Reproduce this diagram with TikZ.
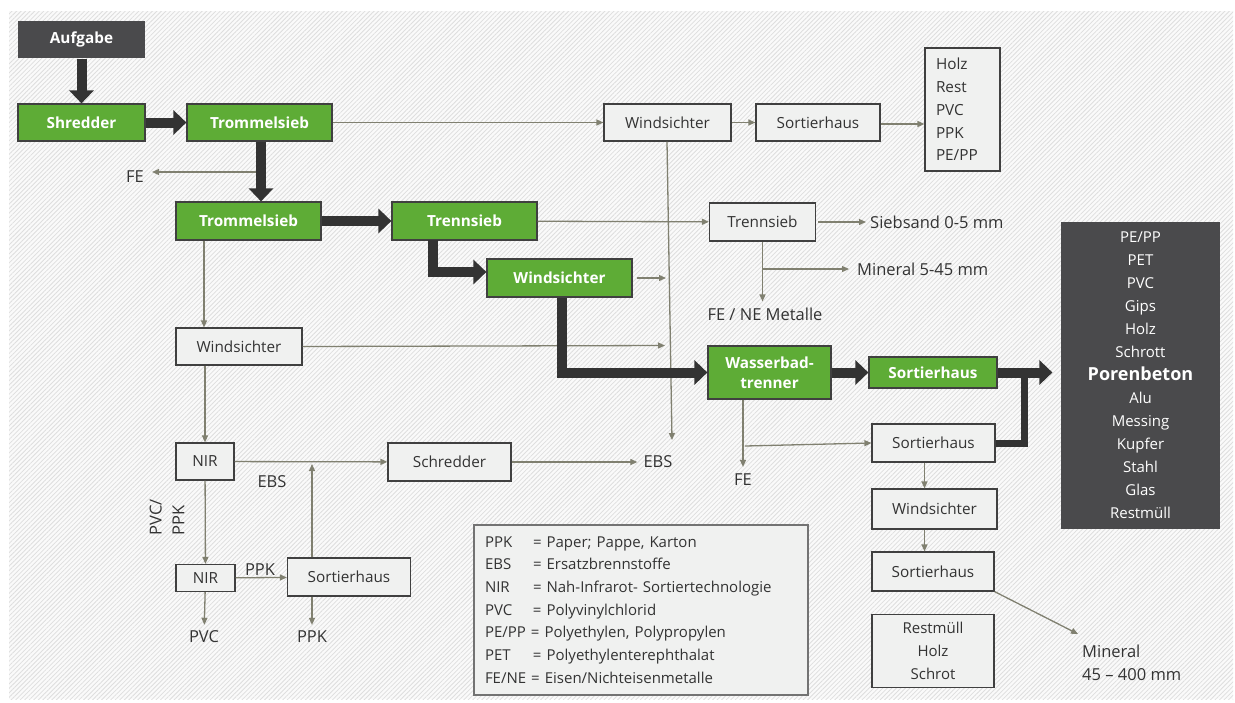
\documentclass[tikz,border=0pt]{standalone}
\usepackage{fontspec}
\setmainfont{Open Sans}
\usetikzlibrary{arrows.meta,patterns.meta}
\definecolor{gruen}{RGB}{94,172,54}
\definecolor{dunkel}{RGB}{74,74,76}
\definecolor{pfeil}{RGB}{51,51,51}
\definecolor{linie}{RGB}{128,128,112}
\definecolor{hell}{RGB}{240,241,240}
\definecolor{rand}{RGB}{64,64,64}
\definecolor{schrift}{RGB}{51,51,51}
\newcommand{\schrift}{\fontsize{15.3}{22.7}\selectfont}
\newcommand{\gross}{\fontsize{16.5}{22.7}\selectfont}
\newcommand{\abk}[1]{\makebox[48pt][l]{#1}}
\tikzset{
  kasten/.style={draw=rand, line width=1.2pt, inner sep=0pt, font=\schrift},
  gruenkasten/.style={kasten, fill=gruen, text=white, font=\schrift\bfseries},
  dunkelkasten/.style={kasten, draw=none, fill=dunkel, text=white},
  hellkasten/.style={kasten, fill=hell, text=schrift},
  dick/.style={pfeil, line width=10pt, -{Triangle[length=13pt,width=24pt]}},
  duenn/.style={linie, line width=1.3pt, -{Triangle[length=7pt,width=6pt]}},
  etikett/.style={text=schrift, font=\gross, inner sep=0pt},
}
\begin{document}
\begin{tikzpicture}[x=1pt,y=-1pt]
\useasboundingbox (0,0) rectangle (1235,702);
\fill[white] (0,0) rectangle (1235,702);
\fill[black!2] (9,11) rectangle (1233,699);
\fill[pattern={Lines[angle=45,distance=3.2pt,line width=0.8pt]},pattern color=black!13] (9,11) rectangle (1233,699);

\node[dunkelkasten,minimum width=127pt,minimum height=37pt,font=\schrift\bfseries] (aufgabe) at (81.5,39.5) {Aufgabe};
\node[gruenkasten,minimum width=127pt,minimum height=37pt] (shredder) at (81.5,122.5) {Shredder};
\node[gruenkasten,minimum width=145pt,minimum height=37pt] (trommelsieb1) at (259.5,122.5) {Trommelsieb};
\node[hellkasten,minimum width=127pt,minimum height=37pt] (windsichter1) at (667.5,122.5) {Windsichter};
\node[hellkasten,minimum width=124pt,minimum height=37pt] (sortierhaus1) at (818,122.5) {Sortierhaus};
\node[hellkasten,minimum width=75pt,minimum height=123pt,text width=53pt,inner xsep=11pt,align=left] (liste) at (962.5,109.5) {Holz\\Rest\\PVC\\PPK\\PE/PP};
\node[etikett] (fe1) at (135,177) {FE};

\node[gruenkasten,minimum width=145pt,minimum height=38pt] (trommelsieb2) at (248.5,221) {Trommelsieb};
\node[gruenkasten,minimum width=145pt,minimum height=38pt] (trennsieb1) at (464.5,221) {Trennsieb};
\node[hellkasten,minimum width=106pt,minimum height=38pt] (trennsieb2) at (762.5,222) {Trennsieb};
\node[etikett,anchor=west] (siebsand) at (870,222) {Siebsand 0-5 mm};
\node[etikett,anchor=west] (mineral1) at (857,269) {Mineral 5-45 mm};
\node[etikett] (metalle) at (765,314) {FE / NE Metalle};
\node[gruenkasten,minimum width=145pt,minimum height=38pt] (windsichter2) at (559.5,278) {Windsichter};

\node[hellkasten,minimum width=126pt,minimum height=37pt] (windsichter3) at (239,346.5) {Windsichter};
\node[gruenkasten,minimum width=123pt,minimum height=53pt,align=center,font=\fontsize{15.3}{20}\selectfont\bfseries] (wasserbad) at (769.5,372.5) {Wasserbad-\\trenner};
\node[gruenkasten,minimum width=128pt,minimum height=31pt] (sortierhaus2) at (933,372.5) {Sortierhaus};
\node[dunkelkasten,minimum width=159pt,minimum height=307pt,align=center,font=\fontsize{15}{23}\selectfont] (porenbeton) at (1140.5,375.5) {PE/PP\\PET\\PVC\\Gips\\Holz\\Schrott\\{\fontsize{18}{23}\selectfont\bfseries Porenbeton}\\Alu\\Messing\\Kupfer\\Stahl\\Glas\\Restmüll};

\node[hellkasten,minimum width=123pt,minimum height=38pt] (sortierhaus3) at (933.5,443) {Sortierhaus};
\node[hellkasten,minimum width=125pt,minimum height=40pt] (windsichter4) at (934.5,509) {Windsichter};
\node[hellkasten,minimum width=122pt,minimum height=39pt] (sortierhaus4) at (933,571.5) {Sortierhaus};
\node[hellkasten,minimum width=122pt,minimum height=73pt,align=center,font=\fontsize{15}{22.7}\selectfont] (rest) at (933,651) {Restmüll\\Holz\\Schrot};
\node[etikett,anchor=west,align=left] (mineral2) at (1082,663) {Mineral\\45 -- 400 mm};
\node[etikett] (ebs2) at (658,462) {EBS};
\node[etikett] (fe2) at (743,480) {FE};

\node[hellkasten,minimum width=58pt,minimum height=37pt] (nir1) at (205,461.5) {NIR};
\node[hellkasten,minimum width=123pt,minimum height=38pt] (schredder) at (449.5,462) {Schredder};
\node[etikett] (ebs1) at (272,482) {EBS};
\node[etikett,rotate=90,align=left] (pvcppk) at (167,517) {PVC/\\PPK};
\node[hellkasten,minimum width=59pt,minimum height=27pt] (nir2) at (205.5,578) {NIR};
\node[hellkasten,minimum width=123pt,minimum height=38pt] (sortierhaus5) at (349,577) {Sortierhaus};
\node[etikett] (ppk1) at (260,570) {PPK};
\node[etikett] (pvc) at (204,637) {PVC};
\node[etikett] (ppk2) at (312,637) {PPK};

\node[hellkasten,draw=black!55,minimum width=334pt,minimum height=170pt,text width=312pt,inner xsep=11pt,align=left,font=\fontsize{15}{22.7}\selectfont] (legende) at (641,610) {\abk{PPK}= Paper; Pappe, Karton\\\abk{EBS}= Ersatzbrennstoffe\\\abk{NIR}= Nah-Infrarot- Sortiertechnologie\\\abk{PVC}= Polyvinylchlorid\\PE/PP = Polyethylen, Polypropylen\\\abk{PET}= Polyethylenterephthalat\\FE/NE = Eisen/Nichteisenmetalle};

\coordinate (abzweig1) at (261,172);
\coordinate (knick1) at (433,240);
\coordinate (ebsspitze) at (672,440);
\coordinate (ziel1) at (666,278);
\coordinate (ziel2) at (665,345.5);
\coordinate (hoch) at (312,464);
\coordinate (abzweig2) at (745,446);
\coordinate (knick2) at (1024,378);
\coordinate (mineralspitze) at (1078,634);

\draw[duenn,shorten >=8pt] (abzweig1) -- (abzweig1 -| fe1.east);
\draw[duenn] (trommelsieb1) -- (windsichter1);
\draw[duenn] (windsichter1) -- (sortierhaus1);
\draw[duenn] ([yshift=-1.5pt]sortierhaus1.east) -- ([yshift=-1.5pt]sortierhaus1.east -| liste.west);
\draw[duenn] ([xshift=-0.5pt]windsichter1.south) -- (ebsspitze);
\draw[duenn] (trennsieb1) -- (trennsieb2);
\draw[duenn,shorten <=2pt,shorten >=4pt] (trennsieb2) -- (siebsand);
\draw[duenn,shorten >=6pt] (trennsieb2.south) -- (trennsieb2.south |- metalle.north);
\draw[duenn,shorten >=8pt] (trennsieb2.south |- mineral1.west) -- (mineral1.west);
\draw[duenn,shorten <=4pt] (windsichter2.east) -- (ziel1);
\draw[duenn] (windsichter3.east) -- (ziel2);
\draw[duenn] ([xshift=-44.5pt]trommelsieb2.south) -- ([xshift=-44.5pt]trommelsieb2.south |- windsichter3.north);
\draw[duenn] (nir1.north |- windsichter3.south) -- (nir1.north);
\draw[duenn] (nir1) -- (schredder);
\draw[duenn,shorten >=6pt] (schredder) -- (ebs2);
\draw[duenn] (nir1) -- (nir2);
\draw[duenn] (nir2) -- (sortierhaus5);
\draw[duenn,shorten >=6pt] (nir2) -- (pvc);
\draw[duenn,shorten >=6pt] (sortierhaus5.south -| ppk2) -- (ppk2);
\draw[duenn] (sortierhaus5.north -| hoch) -- (hoch);
\draw[duenn,shorten >=7pt] (wasserbad.south -| fe2.north) -- (fe2.north);
\draw[duenn] (abzweig2) -- (sortierhaus3.west);
\draw[duenn] ([xshift=-9pt]sortierhaus3.south) -- ([xshift=-9pt]sortierhaus3.south |- windsichter4.north);
\draw[duenn] ([xshift=-10pt]windsichter4.south) -- ([xshift=-10pt]windsichter4.south |- sortierhaus4.north);
\draw[duenn] (sortierhaus4.south east) -- (mineralspitze);

\draw[dick] (aufgabe) -- (shredder);
\draw[dick] (shredder) -- (trommelsieb1);
\draw[dick] ([xshift=1.5pt]trommelsieb1.south) -- ([xshift=1.5pt]trommelsieb1.south |- trommelsieb2.north);
\draw[dick] (trommelsieb2) -- (trennsieb1);
\draw[dick] (knick1) |- ([yshift=6pt]windsichter2.west);
\draw[dick] ([xshift=2.5pt]windsichter2.south) |- (wasserbad.west);
\draw[dick] (wasserbad) -- (sortierhaus2);
\draw[dick,shorten >=8pt] (sortierhaus2.east) -- (porenbeton.west |- sortierhaus2.east);
\draw[dick,-,line width=7pt] (sortierhaus3.east) -| (knick2);
\end{tikzpicture}
\end{document}
